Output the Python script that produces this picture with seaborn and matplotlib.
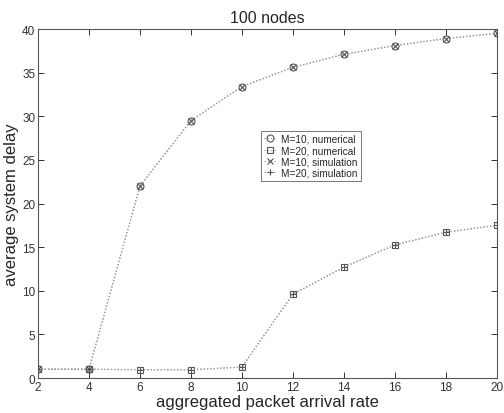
import numpy as np
import pandas as pd
import matplotlib
matplotlib.use("Agg")
import matplotlib.pyplot as plt
import seaborn as sns

# значения
rate = [2, 4, 6, 8, 10, 12, 14, 16, 18, 20]
m10_numerical = [1.0, 1.0, 22.0, 29.5, 33.4, 35.6, 37.1, 38.1, 38.9, 39.5]
m20_numerical = [1.0, 1.0, 0.95, 0.95, 1.25, 9.6, 12.7, 15.25, 16.7, 17.5]
m10_simulation = [1.0, 1.0, 22.0, 29.5, 33.4, 35.6, 37.1, 38.1, 38.9, 39.5]
m20_simulation = [1.0, 1.0, 0.95, 0.95, 1.25, 9.6, 12.7, 15.25, 16.7, 17.5]

series = [
    ("M=10, numerical", m10_numerical, "o"),
    ("M=20, numerical", m20_numerical, "s"),
    ("M=10, simulation", m10_simulation, "x"),
    ("M=20, simulation", m20_simulation, "+"),
]

sns.set_style("ticks")
plt.rcParams["font.family"] = ["Liberation Sans", "DejaVu Sans"]

fig = plt.figure(figsize=(5.04, 4.14), dpi=100)
ax = fig.add_axes([0.0754, 0.0845, 0.910, 0.843])

for name, vals, mk in series:
    df = pd.DataFrame({"rate": rate, "delay": vals})
    sns.lineplot(data=df, x="rate", y="delay", ax=ax, label=name,
                 color="#9a9a9a", linestyle=":", linewidth=0.9,
                 marker=mk, markersize=5 if mk in "os" else 4.5,
                 markerfacecolor="none", markeredgecolor="#555555",
                 markeredgewidth=0.8)

ax.set_xlim(2, 20)
ax.set_ylim(0, 40)
ax.set_xticks(np.arange(2, 21, 2))
ax.set_yticks(np.arange(0, 41, 5))
ax.tick_params(direction="in", top=True, right=True, length=4, width=0.7,
               labelsize=8.5, colors="#333333", pad=2)
for sp in ax.spines.values():
    sp.set_linewidth(0.8)
    sp.set_color("#555555")

ax.set_title("100 nodes", fontsize=11.5, pad=5)
ax.set_xlabel("aggregated packet arrival rate", fontsize=12, labelpad=1)
ax.set_ylabel("average system delay", fontsize=12, labelpad=2)

leg = ax.legend(loc="upper left", bbox_to_anchor=(0.487, 0.708), fontsize=7.2,
                frameon=True, fancybox=False, edgecolor="#555555",
                handlelength=1.1, handletextpad=0.6, borderpad=0.3,
                labelspacing=0.12, borderaxespad=0)
leg.get_frame().set_linewidth(0.7)

fig.savefig("out.png", dpi=100)
